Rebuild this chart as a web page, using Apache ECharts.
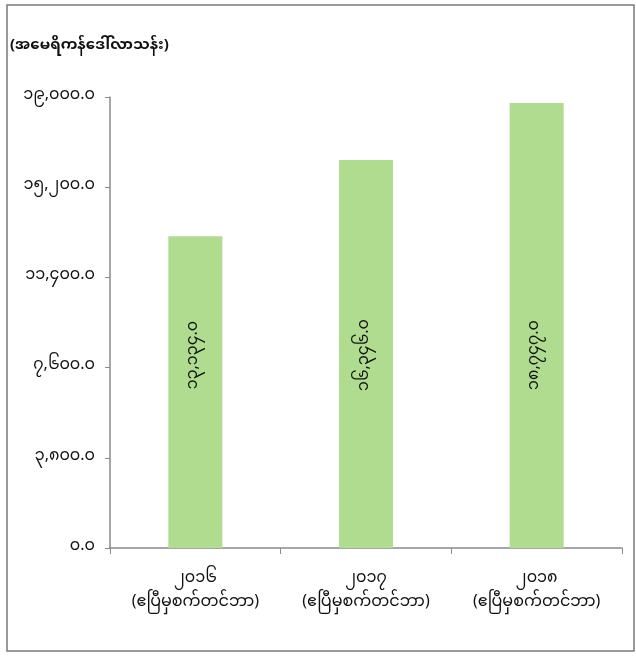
<!DOCTYPE html>
<html>
<head>
<meta charset="utf-8">
<script src="https://cdn.jsdelivr.net/npm/echarts@6/dist/echarts.min.js"></script>
<style>
html,body{margin:0;padding:0;background:#fff;}
#c{width:636px;height:657px;}
</style>
</head>
<body>
<div id="c"></div>
<script>
var categories = ['၂၀၁၆\n(ဧပြီမှစက်တင်ဘာ)', '၂၀၁၇\n(ဧပြီမှစက်တင်ဘာ)', '၂၀၁၈\n(ဧပြီမှစက်တင်ဘာ)'];
var values = [13134, 16346, 18747];
var yTicks = [0, 3800, 7600, 11400, 15200, 19000];
var yTickLabels = ['၀.၀', '၃,၈၀၀.၀', '၇,၆၀၀.၀', '၁၁,၄၀၀.၀', '၁၅,၂၀၀.၀', '၁၉,၀၀၀.၀'];
var unitTitle = '(အမေရိကန်ဒေါ်လာသန်း)';

var MY_DIGITS = ['၀','၁','၂','၃','၄','၅','၆','၇','၈','၉'];
function toMyanmar(v) {
  var s = v.toFixed(1);
  var parts = s.split('.');
  var intPart = parts[0].replace(/\B(?=(\d{3})+(?!\d))/g, ',');
  s = intPart + '.' + parts[1];
  return s.replace(/[0-9]/g, function (d) { return MY_DIGITS[+d]; });
}
var FONT = '"Noto Sans Myanmar", "Padauk", "Myanmar Text", "Noto Sans", sans-serif';

var chart = echarts.init(document.getElementById('c'), null, {renderer: 'canvas'});
chart.setOption({
  animation: false,
  backgroundColor: '#ffffff',
  grid: {left: 110, right: 14, top: 97, bottom: 109, containLabel: false},
  graphic: [
    {type: 'rect', shape: {x: 7, y: 5, width: 627, height: 646},
     style: {fill: 'none', stroke: '#7a7a7a', lineWidth: 1.5}, silent: true},
    {type: 'text', left: 10, top: 40,
     style: {text: unitTitle, font: 'bold 15px ' + FONT, fill: '#111'}}
  ],
  xAxis: {
    type: 'category',
    data: categories,
    axisLine: {lineStyle: {color: '#8a8a8a', width: 1.5}},
    axisTick: {show: true, length: 6, lineStyle: {color: '#8a8a8a'}},
    axisLabel: {color: '#111', fontSize: 16, lineHeight: 24, margin: 20, fontFamily: FONT}
  },
  yAxis: {
    type: 'value',
    min: 0, max: 19000, interval: 3800,
    splitLine: {show: false},
    axisLine: {show: true, lineStyle: {color: '#8a8a8a', width: 1.5}},
    axisTick: {show: true, length: 5, lineStyle: {color: '#8a8a8a'}},
    axisLabel: {
      color: '#111', fontSize: 16, margin: 15, fontFamily: FONT,
      formatter: function (v) {
        var i = yTicks.indexOf(v);
        return i >= 0 ? yTickLabels[i] : '';
      }
    }
  },
  series: [{
    type: 'bar',
    data: values,
    barWidth: 54,
    itemStyle: {color: '#afdc8f'},
    label: {
      show: true,
      position: 'insideBottom',
      distance: 193,
      rotate: 90,
      align: 'center',
      verticalAlign: 'middle',
      color: '#111',
      fontSize: 16,
      fontFamily: FONT,
      formatter: function (p) { return toMyanmar(p.value); }
    }
  }]
});
</script>
</body>
</html>
